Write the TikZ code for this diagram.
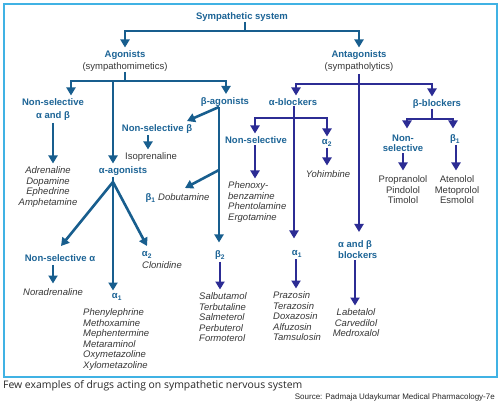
\documentclass[tikz,border=0pt]{standalone}
\usepackage{fontspec}
\setmainfont{Liberation Sans}
\newfontfamily\capfont{Open Sans}
\usetikzlibrary{arrows.meta}
\definecolor{tealc}{RGB}{24,94,142}
\definecolor{headc}{RGB}{28,100,150}
\definecolor{indic}{RGB}{44,44,148}
\definecolor{drugc}{RGB}{55,55,55}
\definecolor{capc}{RGB}{40,40,40}
\definecolor{framec}{RGB}{64,178,228}
\tikzset{
 hd/.style={font=\fontsize{9.5}{10.6}\selectfont\bfseries, text=headc, inner sep=0pt, align=center, anchor=north},
 subt/.style={font=\fontsize{9.5}{10.6}\selectfont, text=drugc, inner sep=0pt, align=center, anchor=north},
 druglist/.style={font=\fontsize{9.5}{10.6}\selectfont\itshape, text=drugc, inner sep=0pt},
 druglistu/.style={font=\fontsize{9.5}{10.6}\selectfont, text=drugc, inner sep=0pt, align=center, anchor=north},
 tl/.style={draw=tealc, line width=2.6pt},
 ta/.style={tl, -{Triangle[width=9pt,length=8pt]}, shorten >=3pt},
 il/.style={draw=indic, line width=2.6pt},
 ia/.style={il, -{Triangle[width=9pt,length=8pt]}, shorten >=3pt},
}
\begin{document}
\begin{tikzpicture}[x=1pt,y=-1pt]
\useasboundingbox (0,0) rectangle (500,403);
\fill[white] (0,0) rectangle (500,403);
\draw[framec, line width=2pt] (3.5,4.5) rectangle (496.5,376.5);

% ---------- text nodes ----------
\node[hd] (sym) at (242,12.5) {Sympathetic system};
\node[hd] (ago) at (125,50.5) {Agonists};
\node[subt] (agos) at (125,62.5) {(sympathomimetics)};
\node[hd] (ant) at (359,50.5) {Antagonists};
\node[subt] (ants) at (359,62.5) {(sympatholytics)};

\node[hd] (nsab) at (53,98.5) {Non-selective\\[2.4pt]α and β};
\node[druglist, align=center, anchor=north] (adr) at (48,166.5) {Adrenaline\\Dopamine\\Ephedrine\\Amphetamine};
\node[hd] (bag) at (225,97) {β-agonists};
\node[hd] (nsb) at (157,124.5) {Non-selective β};
\node[druglistu] (iso) at (151,152.5) {Isoprenaline};
\node[hd] (aag) at (123,166.5) {α-agonists};
\node[hd] (dob) at (177.5,193.5) {β\textsubscript{1}~{\mdseries\itshape\color{drugc}Dobutamine}};
\node[hd] (nsa) at (60,254.5) {Non-selective α};
\node[druglist, anchor=north] (nor) at (53,288.5) {Noradrenaline};
\node[hd] (aa2) at (147,251.5) {α\textsubscript{2}};
\node[druglist, anchor=north] (clo) at (162,261.5) {Clonidine};
\node[hd] (aa1) at (117,293.5) {α\textsubscript{1}};
\node[druglist, align=left, anchor=north west] (a1d) at (83,308.5) {Phenylephrine\\Methoxamine\\Mephentermine\\Metaraminol\\Oxymetazoline\\Xylometazoline};
\node[hd] (b2) at (220,250.5) {β\textsubscript{2}};
\node[druglist, align=left, anchor=north west] (b2d) at (199,292.5) {Salbutamol\\Terbutaline\\Salmeterol\\Perbuterol\\Formoterol};

\node[hd] (ab) at (293,98.5) {α-blockers};
\node[hd] (bb) at (437,99.5) {β-blockers};
\node[hd] (nsl) at (256,136.5) {Non-selective};
\node[druglist, align=left, anchor=north west] (phe) at (228,181.5) {Phenoxy-\\benzamine\\Phentolamine\\Ergotamine};
\node[hd] (ba2) at (327,139.5) {α\textsubscript{2}};
\node[druglist, anchor=north] (yoh) at (328,170.5) {Yohimbine};
\node[hd] (ba1) at (297,250.5) {α\textsubscript{1}};
\node[druglist, align=left, anchor=north west] (ba1d) at (273,291.5) {Prazosin\\Terazosin\\Doxazosin\\Alfuzosin\\Tamsulosin};
\node[hd, align=left, anchor=north west] (abb) at (338,240.5) {α and β\\blockers};
\node[druglist, align=center, anchor=north] (lab) at (356,308.5) {Labetalol\\Carvedilol\\Medroxalol};
\node[hd] (bns) at (403,134.5) {Non-\\selective};
\node[hd] (bb1) at (455,134.5) {β\textsubscript{1}};
\node[druglistu] (prop) at (403,175.5) {Propranolol\\Pindolol\\Timolol};
\node[druglistu] (aten) at (457,175.5) {Atenolol\\Metoprolol\\Esmolol};

\node[font=\capfont\fontsize{10.4}{12}\selectfont, text=capc, inner sep=0pt, anchor=west] (cap) at (3,386) {Few examples of drugs acting on sympathetic nervous system};
\node[font=\fontsize{8}{10}\selectfont, text=capc, inner sep=0pt, anchor=east] (src) at (495,397) {Source: Padmaja Udaykumar Medical Pharmacology-7e};

% ---------- junctions ----------
\coordinate (s0) at (245,31);
\coordinate (a0) at (125,81);
\coordinate (a1j) at (113,81);
\coordinate (bj) at (219,107);
\coordinate (nsbt) at (187,121);
\coordinate (dj) at (219,170);
\coordinate (dobt) at (185,188);
\coordinate (fj) at (113,182);
\coordinate (nsat) at (61,246);
\coordinate (aa2t) at (147,246);
\coordinate (n0) at (359,84);
\coordinate (q0) at (294,118);
\coordinate (r0) at (432,119);

% ---------- agonist connectors ----------
\draw[tl] (sym.south -| s0) -- (s0);
\draw[ta] (s0) -| (ago.north);
\draw[ta] (s0) -| (ant.north);
\draw[tl] (agos.south) -- (a0);
\draw[ta] (a0) -| (nsab.north -| 71,0);
\draw[ta] (a0) -| (bag.north -| 226,0);
\draw[ta] (a1j) -- (aag.north -| a1j);
\draw[ta, shorten <=2pt] (nsab.south -| 53,0) -- (adr.north -| 53,0);
\draw[ta, shorten >=0pt] (bj) -- (nsbt);
\draw[ta, shorten >=8pt] (bj) -- (b2.north -| bj);
\draw[ta, shorten >=0pt] (dj) -- (dobt);
\draw[ta, shorten <=1.5pt] (nsb.south -| 148,0) -- (iso.north -| 148,0);
\draw[tl, shorten <=1pt] (aag.south -| fj) -- (fj);
\draw[ta, shorten >=0pt] (fj) -- (nsat);
\draw[ta, shorten >=0pt] (fj) -- (aa2t);
\draw[ta] (fj) -- (aa1.north -| fj);
\draw[ta, shorten <=3pt, shorten >=5pt] (nsa.south -| 53,0) -- (nor.north -| 53,0);
\draw[ia, shorten <=2pt] (b2.south) -- (b2d.north -| b2);

% ---------- antagonist connectors ----------
\draw[il, shorten <=2pt] (ants.south) -- (n0);
\draw[ia] (n0) -| (ab.north -| 296,0);
\draw[ia] (n0) -| (bb.north -| 432,0);
\draw[ia, shorten >=8.5pt] (n0) -- (abb.north -| n0);
\draw[il] (ab.south -| q0) -- (q0);
\draw[ia] (q0) -| (nsl.north -| 255,0);
\draw[ia] (q0) -| (ba2.north -| 327,0);
\draw[ia, shorten >=12pt] (q0) -- (ba1.north -| q0);
\draw[ia, shorten <=1.5pt] (nsl.south -| 255,0) -- (phe.north -| 255,0);
\draw[ia, shorten <=1pt, shorten >=5pt] (ba2.south -| 327,0) -- (yoh.north -| 327,0);
\draw[ia, shorten <=2pt] (ba1.south -| 296,0) -- (ba1d.north -| 296,0);
\draw[ia, shorten <=2pt] (abb.south -| 355,0) -- (lab.north -| 355,0);
\draw[il] (bb.south -| r0) -- (r0);
\draw[ia, shorten >=6pt] (r0) -| (bns.north -| 407,0);
\draw[ia, shorten >=6pt] (r0) -| (bb1.north -| 453,0);
\draw[ia, shorten <=1pt, shorten >=5pt] (bns.south -| 403,0) -- (prop.north -| 403,0);
\draw[ia, shorten <=1pt, shorten >=5pt] (bb1.south -| 456,0) -- (aten.north -| 456,0);
\end{tikzpicture}
\end{document}
